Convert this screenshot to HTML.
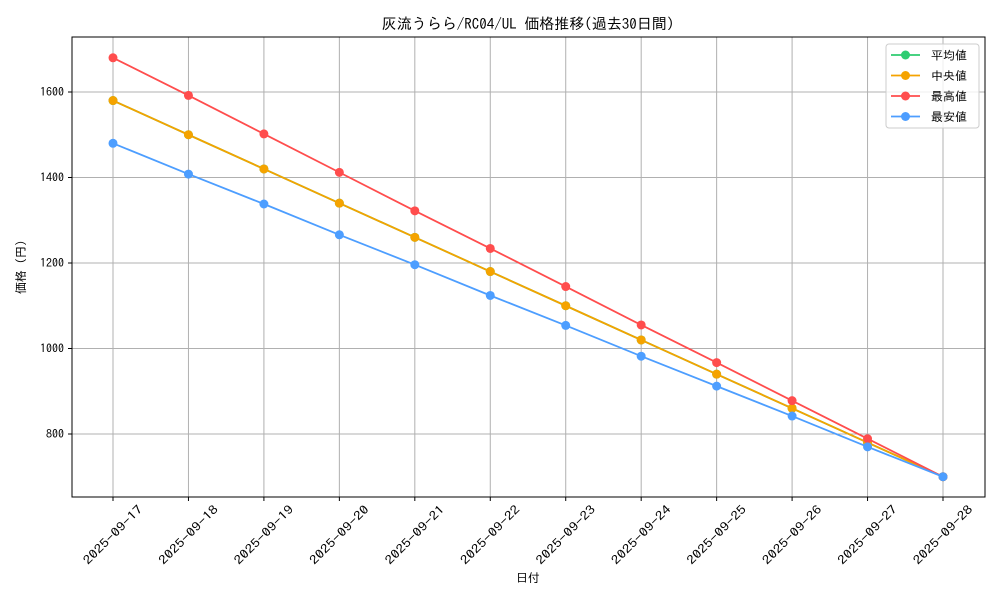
<!DOCTYPE html>
<html><head><meta charset="utf-8"><style>
body{margin:0;background:#fff;}
svg text{font-family:"IPAGothic","Liberation Sans","Noto Sans CJK JP",sans-serif;fill:#000;}
</style></head><body>
<svg id="chart" width="1000" height="600" xmlns="http://www.w3.org/2000/svg">
<rect width="1000" height="600" fill="#fff"/>
<g id="grid"></g>
<g id="series"></g>
<rect x="72" y="37" width="913" height="460" fill="none" stroke="#000" stroke-width="1"/>
<g id="axes"></g>
<text x="528" y="29" text-anchor="middle" font-size="15">灰流うらら/RC04/UL 価格推移(過去30日間)</text>
<text x="528" y="582" text-anchor="middle" font-size="12">日付</text>
<text transform="translate(25,267) rotate(-90)" text-anchor="middle" font-size="12">価格 (円)</text>
<g id="legend">
<rect x="886" y="44" width="93" height="84" rx="3" fill="#fff" fill-opacity="0.8" stroke="#ccc"/>
</g>
</svg>
<script>
const categories=["2025-09-17","2025-09-18","2025-09-19","2025-09-20","2025-09-21","2025-09-22","2025-09-23","2025-09-24","2025-09-25","2025-09-26","2025-09-27","2025-09-28"];
const avgValues=[1580,1500,1420,1340,1260,1180,1100,1020,940,860,780,700];
const medianValues=[1580,1500,1420,1340,1260,1180,1100,1020,940,860,780,700];
const maxValues=[1680,1592,1502,1412,1322,1234,1145,1055,967,878,789,700];
const minValues=[1480,1408,1338,1266,1196,1124,1054,982,912,842,770,700];
const yTicks=[800,1000,1200,1400,1600];
const seriesNames=["平均値","中央値","最高値","最安値"];
const NS="http://www.w3.org/2000/svg";
function xS(i){return 113+i*(943-113)/(categories.length-1);}
function yS(v){return 434-(v-800)*(434-92)/800;}
function mk(tag,attrs,parent){const e=document.createElementNS(NS,tag);for(const k in attrs)e.setAttribute(k,attrs[k]);parent.appendChild(e);return e;}
const grid=document.getElementById('grid'),axes=document.getElementById('axes'),ser=document.getElementById('series'),leg=document.getElementById('legend');
categories.forEach((c,i)=>{const x=xS(i);
 const l=mk('line',{x1:x,x2:x,y1:37,y2:497,stroke:'#b0b0b0','stroke-width':1},grid);
 
 
 mk('line',{x1:x,x2:x,y1:497,y2:501,stroke:'#000'},axes);
 const t=mk('text',{'font-size':12,'text-anchor':'middle',textLength:78,lengthAdjust:'spacingAndGlyphs',transform:`translate(${x},${535}) rotate(-45)`,y:4},axes);t.textContent=c;
 
 
});
yTicks.forEach(v=>{const y=yS(v);
 const l=mk('line',{x1:72,x2:985,y1:y,y2:y,stroke:'#b0b0b0','stroke-width':1},grid);
 
 
 mk('line',{x1:68,x2:72,y1:y,y2:y,stroke:'#000'},axes);
 const t=mk('text',{x:64,y:y+4,'font-size':12,'text-anchor':'end'},axes);t.textContent=v;
 
 
});
const allSeries=[avgValues,medianValues,maxValues,minValues];
const colors=["#2ecc71","#f5a300","#ff4d4d","#4d9eff"];
allSeries.forEach((vals,s)=>{
 const g=mk('g',{},ser);
 
 
 mk('polyline',{points:vals.map((v,i)=>xS(i)+','+yS(v)).join(' '),fill:'none',stroke:colors[s],'stroke-width':1.8},g);
 vals.forEach((v,i)=>{const c=mk('circle',{cx:xS(i),cy:yS(v),r:4.5,fill:colors[s]},g);
  
  });
 const ly=55+s*20.5;
 const le=mk('g',{},leg);
 
 
 mk('line',{x1:891,x2:920,y1:ly,y2:ly,stroke:colors[s],'stroke-width':1.8},le);
 mk('circle',{cx:905.5,cy:ly,r:4.5,fill:colors[s]},le);
 const t=mk('text',{x:931,y:ly+4.5,'font-size':12},le);t.textContent=seriesNames[s];
});
</script>
</body></html>
